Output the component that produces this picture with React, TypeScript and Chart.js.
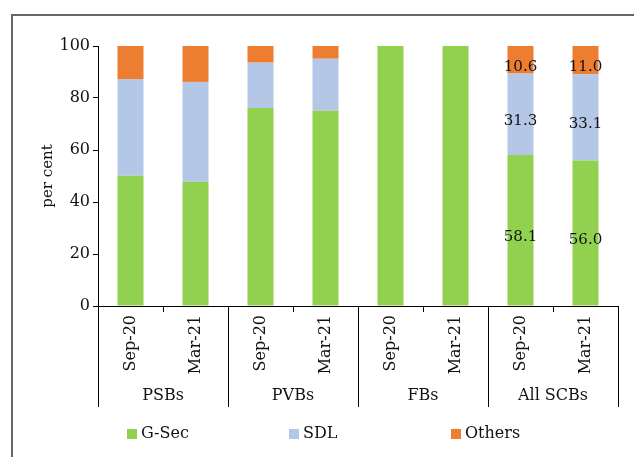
import React, { useEffect, useRef } from "react";
import { Chart, registerables } from "chart.js";

Chart.register(...registerables);

const categories = ["Sep-20", "Mar-21", "Sep-20", "Mar-21", "Sep-20", "Mar-21", "Sep-20", "Mar-21"];
const groups = ["PSBs", "PVBs", "FBs", "All SCBs"];
const gsec = [50.1, 47.8, 76.2, 75.1, 100, 100, 58.1, 56.0];
const sdl = [37.2, 38.4, 17.4, 20.0, 0, 0, 31.3, 33.1];
const others = [12.7, 13.8, 6.4, 4.9, 0, 0, 10.6, 11.0];
const labelledIndices = [6, 7];
const yTicks = [0, 20, 40, 60, 80, 100];

const SERIF = "'DejaVu Serif', 'Liberation Serif', serif";

const decorPlugin = {
  id: "decor",
  afterDraw(chart: any) {
    const ctx = chart.ctx;
    const area = chart.chartArea;
    const xs = chart.scales.x;
    ctx.save();
    // outer frame
    ctx.strokeStyle = "#666666";
    ctx.lineWidth = 2;
    ctx.strokeRect(12, 15, 700, 600);

    // group separators and labels
    const n = categories.length;
    const per = n / groups.length;
    const step = (area.right - area.left) / n;
    ctx.strokeStyle = "#000000";
    ctx.lineWidth = 1;
    for (let g = 0; g <= groups.length; g++) {
      const x = Math.round(area.left + g * per * step) + 0.5;
      ctx.beginPath();
      ctx.moveTo(x, area.bottom);
      ctx.lineTo(x, area.bottom + 101);
      ctx.stroke();
    }
    ctx.fillStyle = "#111111";
    ctx.font = "16px " + SERIF;
    ctx.textAlign = "center";
    ctx.textBaseline = "middle";
    groups.forEach((g, i) => {
      const cx = area.left + (i * per + per / 2) * step;
      ctx.fillText(g, cx, area.bottom + 90);
    });

    // legend
    ctx.textAlign = "left";
    ctx.font = "16px " + SERIF;
    chart.data.datasets.forEach((ds: any, i: number) => {
      const x0 = 127 + i * 162;
      const y0 = 429;
      ctx.fillStyle = ds.backgroundColor;
      ctx.fillRect(x0, y0, 10, 10);
      ctx.fillStyle = "#111111";
      ctx.fillText(ds.label, x0 + 14, y0 + 5);
    });

    // data labels
    ctx.font = "15px " + SERIF;
    ctx.textAlign = "center";
    ctx.fillStyle = "#111111";
    chart.data.datasets.forEach((ds: any, di: number) => {
      const meta = chart.getDatasetMeta(di);
      labelledIndices.forEach((idx) => {
        const el: any = meta.data[idx];
        if (!el) return;
        const cy = (el.y + el.base) / 2 + 7;
        ctx.fillText(Number(ds.data[idx]).toFixed(1), el.x, cy);
      });
    });
    ctx.restore();
  },
};

export default function App() {
  const ref = useRef<HTMLCanvasElement | null>(null);
  useEffect(() => {
    if (!ref.current) return;
    const chart = new Chart(ref.current, {
      type: "bar",
      data: {
        labels: categories,
        datasets: [
          { label: "G-Sec", data: gsec, backgroundColor: "#92D050" },
          { label: "SDL", data: sdl, backgroundColor: "#B4C7E7" },
          { label: "Others", data: others, backgroundColor: "#ED7D31" },
        ],
      },
      options: {
        responsive: false,
        animation: false,
        layout: { padding: { left: 35, right: 16, top: 46, bottom: 0 } },
        datasets: { bar: { categoryPercentage: 1, barPercentage: 0.4 } },
        plugins: { legend: { display: false }, tooltip: { enabled: false } },
        scales: {
          x: {
            stacked: true,
            offset: true,
            grid: {
              offset: true,
              drawOnChartArea: false,
              drawTicks: true,
              tickLength: 6,
              color: "#000000",
            },
            border: { display: true, color: "#000000" },
            ticks: {
              minRotation: 90,
              maxRotation: 90,
              padding: 3,
              color: "#111111",
              font: { family: SERIF, size: 16 },
            },
            afterFit(scale: any) {
              scale.height = 151;
            },
          },
          y: {
            stacked: true,
            min: 0,
            max: 100,
            afterBuildTicks(scale: any) {
              scale.ticks = yTicks.map((v) => ({ value: v }));
            },
            grid: {
              drawOnChartArea: false,
              drawTicks: true,
              tickLength: 5,
              color: "#000000",
            },
            border: { display: true, color: "#000000" },
            ticks: {
              padding: 3,
              color: "#111111",
              font: { family: SERIF, size: 16 },
            },
            title: {
              display: true,
              text: "per cent",
              color: "#111111",
              font: { family: SERIF, size: 15 },
            },
            afterFit(scale: any) {
              scale.width = 63;
            },
          },
        },
      },
      plugins: [decorPlugin],
    });
    return () => chart.destroy();
  }, []);
  return (
    <div style={{ position: "fixed", left: 0, top: 0, width: 634, height: 457, background: "#ffffff" }}>
      <canvas ref={ref} width={634} height={457} style={{ display: "block" }} />
    </div>
  );
}
